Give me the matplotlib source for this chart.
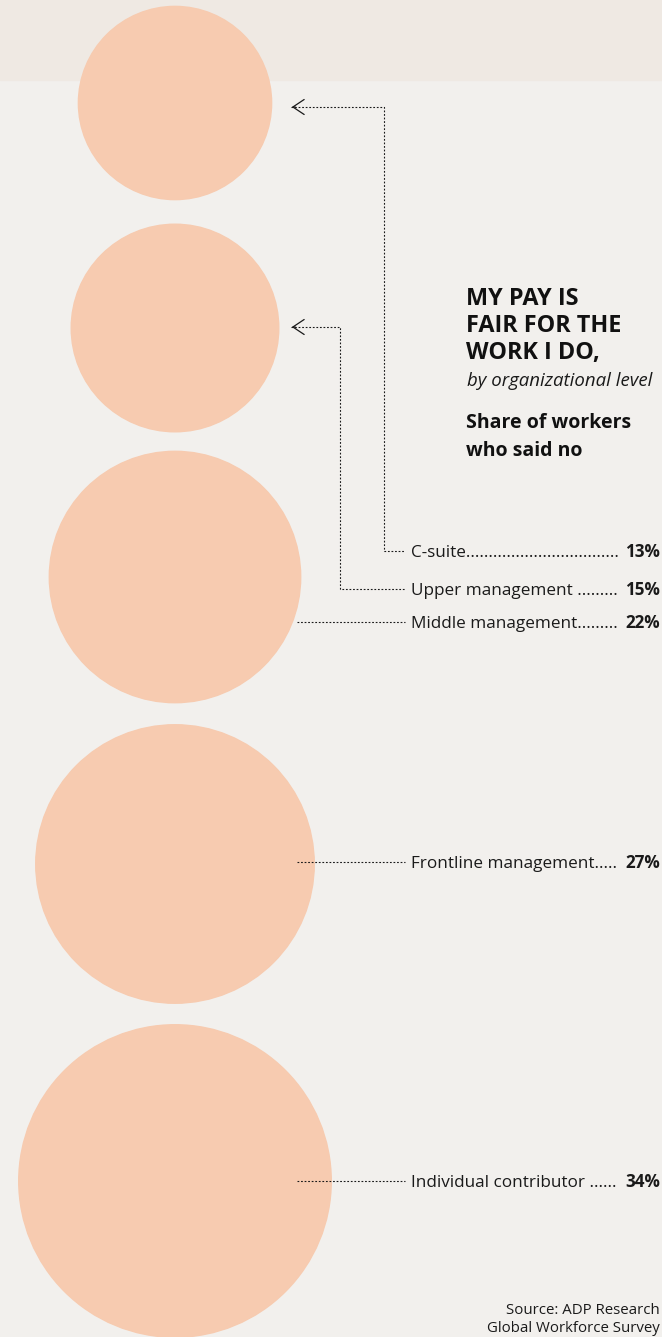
import numpy as np
import matplotlib.pyplot as plt
from matplotlib.patches import Circle, Rectangle

plt.rcParams['font.family'] = ['Open Sans', 'DejaVu Sans']

# data
levels = ["C-suite", "Upper management", "Middle management",
          "Frontline management", "Individual contributor"]
shares = [13, 15, 22, 27, 34]
leaders = ["C-suite", "Upper management .....", "Middle management.....",
           "Frontline management..", "Individual contributor ..."]

# layout (pixels)
W, H = 662, 1337
cx = 175
cy = [103, 328, 577, 864, 1181]
arrow_y = [107, 327]
label_y = [551, 589, 622, 862, 1181]
scale = 26.8  # radius per sqrt(percent)

bg = "#f2f0ed"
band = "#efe9e3"
peach = "#f7cbb0"
ink = "#1a1a1a"

fig = plt.figure(figsize=(W / 100, H / 100), dpi=100)
fig.patch.set_facecolor(bg)
ax = fig.add_axes([0, 0, 1, 1])
ax.set_xlim(0, W)
ax.set_ylim(H, 0)
ax.set_aspect("equal")
ax.axis("off")

ax.add_patch(Rectangle((0, 0), W, 80, color=band, zorder=0))

for y, s in zip(cy, shares):
    ax.add_patch(Circle((cx, y), scale * np.sqrt(s), color=peach, zorder=1))

dots = dict(color=ink, lw=0.8, linestyle=(0, (1.6, 1.6)), zorder=2)

# elbow connectors for the two small circles
for i, xv in enumerate([384, 340]):
    ya = arrow_y[i]
    ax.plot([291, xv, xv, 405], [ya, ya, label_y[i], label_y[i]], **dots)
    ax.annotate("", xy=(289, ya), xytext=(298, ya),
                arrowprops=dict(arrowstyle="->,head_width=0.3,head_length=0.45",
                                color=ink, lw=0.9, mutation_scale=18), zorder=3)

for i in range(2, 5):
    ax.plot([297, 405], [label_y[i], label_y[i]], **dots)

r = fig.canvas.get_renderer()
for i in range(5):
    p = ax.text(660, label_y[i] + 6, f"{shares[i]}%", fontsize=12.3, color=ink,
                va="baseline", ha="right", fontweight="bold")
    pct_left = p.get_window_extent(r).x0
    t = ax.text(411, label_y[i] + 6, leaders[i], fontsize=12.3, color=ink,
                va="baseline", ha="left")
    # leader dots up to the percentage
    s = leaders[i]
    while t.get_window_extent(r).x1 < pct_left - 10:
        s += "."
        t.set_text(s)

for k, line in enumerate(["MY PAY IS", "FAIR FOR THE", "WORK I DO,"]):
    ax.text(466, 305 + 27 * k, line, fontsize=16.8, fontweight="bold",
            color="#111111", va="baseline", ha="left")
ax.text(467, 386, "by organizational level", fontsize=13.4, style="italic",
        color=ink, va="baseline", ha="left")
for k, line in enumerate(["Share of workers", "who said no"]):
    ax.text(466, 428 + 28 * k, line, fontsize=14, fontweight="bold",
            color="#111111", va="baseline", ha="left")

ax.text(660, 1314, "Source: ADP Research", fontsize=10.8, color=ink,
        va="baseline", ha="right")
ax.text(660, 1332, "Global Workforce Survey", fontsize=10.8, color=ink,
        va="baseline", ha="right")

fig.savefig("out.png", dpi=100, facecolor=bg)
